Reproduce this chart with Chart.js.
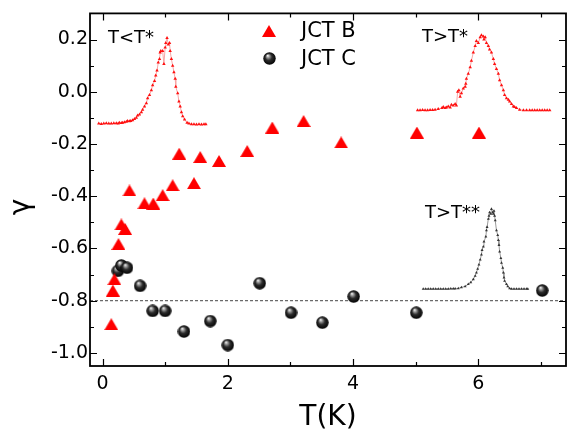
<!DOCTYPE html>
<html>
<head>
<meta charset="utf-8">
<script src="https://cdn.jsdelivr.net/npm/chart.js@4.4.1/dist/chart.umd.min.js"></script>
<style>
  html, body { margin: 0; padding: 0; background: #fff; }
</style>
</head>
<body>
<canvas id="chart" width="574" height="437"></canvas>
<script>
// γ(T) для двох контактів; вставки — гістограми при трьох температурах.

const FONT = "DejaVu Sans";

const X_TICKS = [0, 2, 4, 6];
const X_MINOR = [1, 3, 5, 7];
const Y_TICKS = [-1.0, -0.8, -0.6, -0.4, -0.2, 0.0, 0.2];
const Y_MINOR = [-0.9, -0.7, -0.5, -0.3, -0.1, 0.1];

// JCT B
const JCT_B_T = [0.14, 0.165, 0.19, 0.255, 0.36, 0.30, 0.43, 0.67, 0.81, 0.96, 1.12, 1.225, 1.46, 1.56, 1.86, 2.31, 2.71, 3.21, 3.81, 5.02, 6.01];
const JCT_B_G = [-0.89, -0.761, -0.718, -0.583, -0.525, -0.508, -0.378, -0.427, -0.428, -0.396, -0.358, -0.237, -0.35, -0.25, -0.265, -0.227, -0.137, -0.112, -0.194, -0.156, -0.156];

// JCT C
const JCT_C_T = [0.245, 0.30, 0.39, 0.60, 0.80, 1.00, 1.30, 1.72, 2.00, 2.51, 3.01, 3.51, 4.01, 5.01, 7.02];
const JCT_C_G = [-0.686, -0.665, -0.674, -0.743, -0.839, -0.839, -0.918, -0.878, -0.970, -0.733, -0.846, -0.884, -0.784, -0.846, -0.761];

// рівень γ = -0.8
const LEVEL_T = [-0.2, 7.4];
const LEVEL_G = [-0.8, -0.8];

// вставка T<T*
const INS_A_T = [-0.06, -0.02, 0.02, 0.06, 0.10, 0.14, 0.18, 0.22, 0.25, 0.27, 0.30, 0.32, 0.35, 0.38, 0.40, 0.43, 0.45, 0.48, 0.51, 0.54, 0.56, 0.59, 0.62, 0.64, 0.67, 0.70, 0.72, 0.75, 0.78, 0.80, 0.83, 0.85, 0.87, 0.89, 0.91, 0.92, 0.93, 0.96, 0.98, 1.00, 1.01, 1.03, 1.05, 1.07, 1.08, 1.10, 1.12, 1.14, 1.16, 1.17, 1.20, 1.22, 1.24, 1.26, 1.28, 1.31, 1.35, 1.38, 1.42, 1.46, 1.50, 1.54, 1.58, 1.62, 1.65];
const INS_A_G = [-0.122, -0.123, -0.122, -0.121, -0.122, -0.122, -0.121, -0.121, -0.122, -0.119, -0.120, -0.119, -0.117, -0.115, -0.112, -0.113, -0.112, -0.109, -0.104, -0.100, -0.091, -0.087, -0.078, -0.069, -0.056, -0.044, -0.025, -0.012, 0.006, 0.025, 0.041, 0.062, 0.081, 0.112, 0.125, 0.150, 0.156, 0.156, 0.106, 0.169, 0.187, 0.206, 0.181, 0.187, 0.156, 0.125, 0.100, 0.075, 0.050, 0.019, -0.006, -0.037, -0.056, -0.078, -0.094, -0.106, -0.119, -0.122, -0.124, -0.124, -0.125, -0.124, -0.125, -0.124, -0.124];

// вставка T>T*
const INS_B_T = [5.03, 5.07, 5.11, 5.15, 5.19, 5.23, 5.27, 5.31, 5.36, 5.42, 5.44, 5.47, 5.49, 5.52, 5.55, 5.57, 5.60, 5.63, 5.65, 5.67, 5.69, 5.71, 5.73, 5.76, 5.79, 5.80, 5.81, 5.84, 5.87, 5.89, 5.92, 5.95, 5.97, 6.00, 6.03, 6.05, 6.08, 6.09, 6.11, 6.13, 6.16, 6.18, 6.21, 6.24, 6.26, 6.29, 6.32, 6.34, 6.37, 6.40, 6.42, 6.45, 6.48, 6.50, 6.53, 6.56, 6.58, 6.61, 6.66, 6.72, 6.77, 6.82, 6.86, 6.90, 6.94, 6.98, 7.02, 7.06, 7.10, 7.14];
const INS_B_G = [-0.071, -0.071, -0.070, -0.071, -0.071, -0.070, -0.070, -0.069, -0.066, -0.062, -0.058, -0.062, -0.060, -0.056, -0.060, -0.050, -0.053, -0.047, -0.053, 0.000, 0.006, -0.019, -0.006, 0.012, 0.019, 0.031, 0.050, 0.069, 0.094, 0.119, 0.150, 0.175, 0.194, 0.187, 0.209, 0.216, 0.212, 0.200, 0.209, 0.187, 0.175, 0.162, 0.150, 0.125, 0.106, 0.087, 0.069, 0.044, 0.025, 0.006, -0.012, -0.025, -0.031, -0.037, -0.047, -0.056, -0.058, -0.062, -0.069, -0.071, -0.071, -0.071, -0.071, -0.071, -0.071, -0.071, -0.071, -0.071, -0.071, -0.071];

// вставка T>T**
const INS_C_T = [5.12, 5.16, 5.20, 5.24, 5.28, 5.32, 5.36, 5.40, 5.44, 5.48, 5.52, 5.56, 5.60, 5.63, 5.68, 5.73, 5.79, 5.84, 5.88, 5.92, 5.95, 5.97, 5.99, 6.01, 6.03, 6.05, 6.06, 6.08, 6.09, 6.12, 6.13, 6.14, 6.16, 6.17, 6.18, 6.20, 6.21, 6.23, 6.24, 6.25, 6.26, 6.27, 6.29, 6.31, 6.32, 6.33, 6.34, 6.36, 6.37, 6.39, 6.40, 6.41, 6.42, 6.45, 6.47, 6.50, 6.53, 6.57, 6.61, 6.65, 6.69, 6.73, 6.77, 6.79];
const INS_C_G = [-0.755, -0.755, -0.755, -0.755, -0.755, -0.755, -0.755, -0.755, -0.755, -0.755, -0.755, -0.754, -0.754, -0.754, -0.753, -0.749, -0.745, -0.737, -0.730, -0.718, -0.705, -0.693, -0.678, -0.662, -0.643, -0.624, -0.606, -0.593, -0.574, -0.555, -0.531, -0.518, -0.487, -0.475, -0.462, -0.468, -0.449, -0.462, -0.468, -0.456, -0.475, -0.493, -0.531, -0.549, -0.568, -0.587, -0.612, -0.637, -0.655, -0.674, -0.693, -0.712, -0.724, -0.737, -0.745, -0.753, -0.755, -0.755, -0.755, -0.755, -0.755, -0.755, -0.755, -0.755];

const pts = (xs, ys) => xs.map((x, i) => ({ x, y: ys[i] }));

// маркери як канви: трикутник і «кулька» з відблиском
function makeTriangle(w, h, color) {
  const c = document.createElement("canvas");
  c.width = w; c.height = h;
  const g = c.getContext("2d");
  g.fillStyle = color;
  g.beginPath(); g.moveTo(w / 2, 0); g.lineTo(w, h); g.lineTo(0, h); g.closePath(); g.fill();
  return c;
}

function makeSphere(d) {
  const c = document.createElement("canvas");
  c.width = d; c.height = d;
  const g = c.getContext("2d");
  const r = d / 2;
  const grad = g.createRadialGradient(r * 0.72, r * 0.55, 0.3, r, r, r);
  grad.addColorStop(0, "#f2f2f2");
  grad.addColorStop(0.2, "#9a9a9a");
  grad.addColorStop(0.5, "#2c2c2c");
  grad.addColorStop(1, "#000");
  g.fillStyle = grad;
  g.beginPath(); g.arc(r, r, r - 0.3, 0, Math.PI * 2); g.fill();
  return c;
}

const triImg = makeTriangle(14, 12, "#ff0000");
const ballImg = makeSphere(13);

// рамка, внутрішні засічки, легенда, підписи вставок, підпис осі γ
const decor = {
  id: "decor",
  afterDraw(chart) {
    const { ctx, chartArea: a, scales: { x, y } } = chart;
    ctx.save();
    ctx.strokeStyle = "#000";
    ctx.lineWidth = 1.8;
    ctx.strokeRect(a.left, a.top, a.right - a.left, a.bottom - a.top);

    ctx.lineWidth = 1.2;
    ctx.beginPath();
    const xt = (vals, len) => vals.forEach(v => {
      const px = Math.round(x.getPixelForValue(v)) + 0.5;
      ctx.moveTo(px, a.bottom); ctx.lineTo(px, a.bottom - len);
      ctx.moveTo(px, a.top);    ctx.lineTo(px, a.top + len);
    });
    const yt = (vals, len) => vals.forEach(v => {
      const py = Math.round(y.getPixelForValue(v)) + 0.5;
      ctx.moveTo(a.left, py);  ctx.lineTo(a.left + len, py);
      ctx.moveTo(a.right, py); ctx.lineTo(a.right - len, py);
    });
    xt(X_TICKS, 7); xt(X_MINOR, 4);
    yt(Y_TICKS, 7); yt(Y_MINOR, 4);
    ctx.stroke();

    ctx.fillStyle = "#000";
    ctx.textBaseline = "alphabetic";
    ctx.drawImage(triImg, 262, 25);
    ctx.drawImage(ballImg, 263, 52);
    ctx.font = `21px "${FONT}"`;
    ctx.fillText("JCT B", 301, 37);
    ctx.fillText("JCT C", 301, 65);

    ctx.font = `18px "${FONT}"`;
    ctx.fillText("T<T*", 108, 43);
    ctx.fillText("T>T*", 422, 42);
    ctx.fillText("T>T**", 425, 218);

    ctx.translate(22, 207);
    ctx.rotate(-Math.PI / 2);
    ctx.font = `28px "${FONT}"`;
    ctx.textAlign = "center";
    ctx.textBaseline = "middle";
    ctx.fillText("γ", 0, 0);
    ctx.restore();
  },
};

const insetBase = { showLine: true, borderWidth: 1, pointStyle: "triangle",
                    pointRadius: 2, pointBorderWidth: 0, order: 3 };

new Chart(document.getElementById("chart"), {
  type: "scatter",
  data: {
    datasets: [
      { label: "JCT B", data: pts(JCT_B_T, JCT_B_G), pointStyle: triImg, pointRadius: 7, order: 1 },
      { label: "JCT C", data: pts(JCT_C_T, JCT_C_G), pointStyle: ballImg, pointRadius: 7, order: 2 },
      { ...insetBase, data: pts(INS_A_T, INS_A_G), borderColor: "#f7a6a6",
        pointBackgroundColor: "#ff1010" },
      { ...insetBase, data: pts(INS_B_T, INS_B_G), borderColor: "#f7a6a6",
        pointBackgroundColor: "#ff1010" },
      { ...insetBase, data: pts(INS_C_T, INS_C_G), borderColor: "#9a9a9a",
        pointBackgroundColor: "#333", pointRadius: 1.7 },
      { data: pts(LEVEL_T, LEVEL_G), showLine: true, pointRadius: 0, borderWidth: 1,
        borderColor: "#444", borderDash: [3, 2], order: 4 },
    ],
  },
  options: {
    responsive: false,
    animation: false,
    events: [],
    layout: { padding: { top: 5, right: 5, left: 0, bottom: 0 } },
    plugins: { legend: { display: false }, tooltip: { enabled: false } },
    scales: {
      x: {
        type: "linear", min: -0.2, max: 7.4,
        grid: { display: false, drawTicks: false },
        border: { display: false },
        afterBuildTicks: s => { s.ticks = X_TICKS.map(v => ({ value: v })); },
        afterFit: s => { s.height = 71; },
        ticks: { color: "#000", font: { family: FONT, size: 19 }, padding: 7,
                 callback: v => String(v) },
        title: { display: true, text: "T(K)", color: "#000",
                 font: { family: FONT, size: 28 }, padding: { top: 0, bottom: 2 } },
      },
      y: {
        type: "linear", min: -1.05, max: 0.30,
        grid: { display: false, drawTicks: false },
        border: { display: false },
        afterBuildTicks: s => { s.ticks = Y_TICKS.map(v => ({ value: v })); },
        afterFit: s => { s.width = 90; },
        ticks: { color: "#000", font: { family: FONT, size: 19 }, padding: 2,
                 callback: v => v.toFixed(1) },
      },
    },
  },
  plugins: [decor],
});
</script>
</body>
</html>
